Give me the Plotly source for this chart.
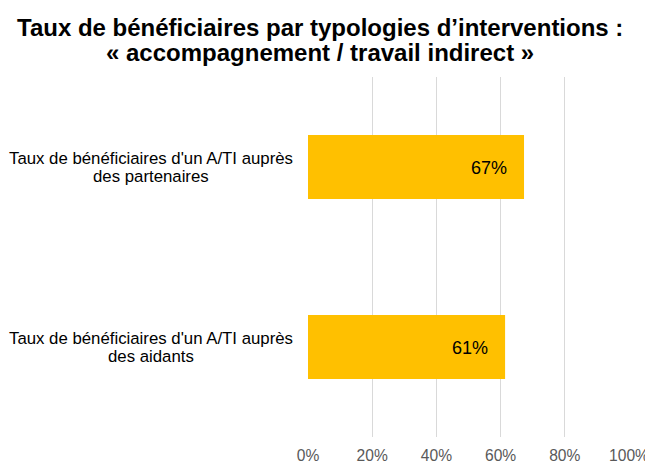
import plotly.graph_objects as go

categories = ["Taux de bénéficiaires d'un A/TI auprès<br>des partenaires",
              "Taux de bénéficiaires d'un A/TI auprès<br>des aidants"]
cat_line1 = ["Taux de bénéficiaires d'un A/TI auprès", "Taux de bénéficiaires d'un A/TI auprès"]
cat_line2 = ["des partenaires", "des aidants"]
values = [67.3, 61.4]
tick_vals = [0, 20, 40, 60, 80, 100]
tick_text = ["0%", "20%", "40%", "60%", "80%", "100%"]
title_line1 = "Taux de bénéficiaires par typologies d’interventions :"
title_line2 = "« accompagnement / travail indirect »"

FONT = "Liberation Sans, Arial, sans-serif"

fig = go.Figure()
fig.add_trace(go.Bar(
    x=values, y=categories, orientation="h",
    marker=dict(color="#FFC000", line=dict(width=0)),
    hoverinfo="skip",
))

annotations = []
for c, l1, l2 in zip(categories, cat_line1, cat_line2):
    annotations.append(dict(xref="paper", yref="y", x=-0.488, y=c, text=l1,
                            showarrow=False, xanchor="center", yanchor="middle", yshift=8.5,
                            font=dict(family=FONT, size=16.8, color="#000000")))
    annotations.append(dict(xref="paper", yref="y", x=-0.488, y=c, text=l2,
                            showarrow=False, xanchor="center", yanchor="middle", yshift=-9.5,
                            font=dict(family=FONT, size=16.8, color="#000000")))
for c, v in zip(categories, values):
    annotations.append(dict(xref="x", yref="y", x=v, y=c, text=f"{v:.0f}%",
                            showarrow=False, xanchor="right", yanchor="middle", xshift=-15, yshift=-1,
                            font=dict(family=FONT, size=18, color="#000000")))
annotations.append(dict(xref="paper", yref="paper", x=0.036, y=(437 - 27.5) / 360, text=title_line1,
                        showarrow=False, xanchor="center", yanchor="middle",
                        font=dict(family=FONT, size=24, color="#000000", weight="bold")))
annotations.append(dict(xref="paper", yref="paper", x=0.036, y=(437 - 52) / 360, text=title_line2,
                        showarrow=False, xanchor="center", yanchor="middle",
                        font=dict(family=FONT, size=24, color="#000000", weight="bold")))

fig.update_layout(
    width=645, height=456,
    margin=dict(l=300, r=24, t=69, b=27, pad=0),
    paper_bgcolor="white", plot_bgcolor="white",
    showlegend=False,
    bargap=0.644,
    annotations=annotations,
    xaxis=dict(range=[0, 100], tickvals=tick_vals, ticktext=tick_text,
               showgrid=True, gridcolor="#D9D9D9", gridwidth=1,
               zeroline=False, showline=False, ticks="",
               ticklabelstandoff=7,
               tickfont=dict(family=FONT, size=15.6, color="#595959"),
               automargin=False, fixedrange=True),
    yaxis=dict(categoryorder="array", categoryarray=categories, autorange="reversed",
               showticklabels=False, showgrid=False, zeroline=False, showline=False,
               ticks="", automargin=False, fixedrange=True),
)

fig.write_html("out.html")
